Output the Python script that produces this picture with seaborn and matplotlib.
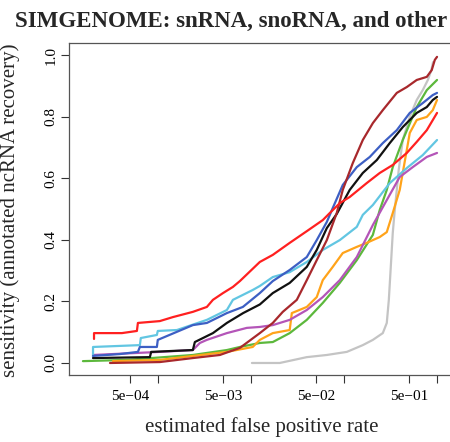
import matplotlib
matplotlib.use("Agg")
import matplotlib.pyplot as plt
import numpy as np
import pandas as pd
import seaborn as sns

# ROC-style curves: sensitivity vs. estimated false positive rate, one per method
gray_fpr = [0.0102, 0.0203, 0.0397, 0.0652, 0.107, 0.159, 0.204, 0.261, 0.288, 0.303, 0.318,
            0.334, 0.351, 0.369, 0.387, 0.428, 0.509, 0.605, 0.702, 0.797, 0.868, 0.906]
gray_sens = [0.0, 0.0, 0.019, 0.026, 0.036, 0.058, 0.075, 0.097, 0.130, 0.205, 0.312,
             0.422, 0.497, 0.562, 0.627, 0.724, 0.799, 0.854, 0.886, 0.919, 0.951, 0.977]

green_fpr = [1.55e-4, 4.6e-4, 2.36e-3, 5.48e-3, 7.57e-3, 0.0124, 0.0171, 0.026, 0.0397, 0.059,
             0.0899, 0.137, 0.204, 0.242, 0.288, 0.334, 0.428, 0.605, 0.776, 1.0]
green_sens = [0.006, 0.010, 0.026, 0.042, 0.052, 0.065, 0.068, 0.097, 0.140, 0.195,
              0.260, 0.334, 0.416, 0.497, 0.562, 0.636, 0.724, 0.831, 0.886, 0.919]

orange_fpr = [3.26e-4, 1.04e-3, 5.48e-3, 0.0104, 0.0124, 0.0171, 0.026, 0.0274, 0.0397, 0.0508,
              0.059, 0.0755, 0.0968, 0.137, 0.175, 0.242, 0.288, 0.334, 0.397, 0.473, 0.509,
              0.605, 0.776, 0.900, 1.0]
orange_sens = [0.006, 0.010, 0.036, 0.052, 0.075, 0.097, 0.107, 0.162, 0.182, 0.214,
               0.269, 0.312, 0.357, 0.377, 0.390, 0.409, 0.425, 0.487, 0.562, 0.692, 0.747,
               0.789, 0.799, 0.821, 0.854]

purple_fpr = [1.99e-4, 1.04e-3, 2.36e-3, 2.81e-3, 3.34e-3, 5.48e-3, 8.99e-3, 0.0124, 0.0171, 0.026,
              0.0397, 0.059, 0.0899, 0.137, 0.204, 0.288, 0.397, 0.548, 0.776, 1.0]
purple_sens = [0.026, 0.036, 0.042, 0.065, 0.075, 0.097, 0.114, 0.117, 0.123, 0.140,
               0.172, 0.214, 0.269, 0.344, 0.448, 0.529, 0.604, 0.636, 0.669, 0.682]

cyan_fpr = [1.99e-4, 1.99e-4, 6.35e-4, 6.5e-4, 9.68e-4, 9.9e-4, 1.59e-3, 3.34e-3, 5.48e-3, 6.37e-3,
            0.0104, 0.0124, 0.0171, 0.026, 0.0397, 0.059, 0.0899, 0.137, 0.159, 0.204, 0.261,
            0.310, 0.473, 0.702, 1.0]
cyan_sens = [0.019, 0.052, 0.058, 0.081, 0.091, 0.104, 0.107, 0.140, 0.172, 0.205,
             0.237, 0.250, 0.279, 0.295, 0.328, 0.367, 0.399, 0.442, 0.481, 0.513, 0.555,
             0.584, 0.633, 0.675, 0.724]

black_fpr = [1.99e-4, 8.14e-4, 8.4e-4, 2.36e-3, 2.48e-3, 3.88e-3, 5.48e-3, 8.2e-3, 0.0124, 0.0171,
             0.026, 0.0397, 0.0508, 0.0652, 0.0834, 0.115, 0.159, 0.225, 0.310, 0.428, 0.605,
             0.776, 0.900, 1.0]
black_sens = [0.016, 0.019, 0.036, 0.042, 0.068, 0.097, 0.130, 0.162, 0.190, 0.227,
              0.260, 0.312, 0.367, 0.438, 0.484, 0.562, 0.617, 0.659, 0.714, 0.766, 0.812,
              0.831, 0.854, 0.864]

blue_fpr = [1.99e-4, 3.87e-4, 6.05e-4, 6.35e-4, 9.68e-4, 9.9e-4, 2.36e-3, 3.34e-3, 5.48e-3, 8.15e-3,
            0.0124, 0.0171, 0.026, 0.0397, 0.0508, 0.0652, 0.0755, 0.0968, 0.137, 0.189, 0.261,
            0.369, 0.509, 0.702, 0.900, 1.0]
blue_sens = [0.023, 0.029, 0.036, 0.052, 0.052, 0.075, 0.123, 0.130, 0.162, 0.182,
             0.227, 0.266, 0.302, 0.344, 0.399, 0.458, 0.503, 0.578, 0.636, 0.669, 0.714,
             0.756, 0.812, 0.844, 0.870, 0.877]

brown_fpr = [3.03e-4, 1.04e-3, 2.36e-3, 4.61e-3, 7.57e-3, 0.0124, 0.0171, 0.0219, 0.031, 0.0397,
             0.0508, 0.0652, 0.0834, 0.0968, 0.124, 0.159, 0.204, 0.261, 0.369, 0.473, 0.605,
             0.776, 0.877, 0.946, 1.0]
brown_sens = [0.0, 0.003, 0.016, 0.026, 0.049, 0.097, 0.130, 0.166, 0.205, 0.269,
              0.334, 0.399, 0.487, 0.562, 0.649, 0.724, 0.779, 0.821, 0.877, 0.896, 0.919,
              0.929, 0.951, 0.984, 0.994]

red_fpr = [2.04e-4, 2.04e-4, 4.07e-4, 5.9e-4, 6.05e-4, 1.04e-3, 1.44e-3, 2.36e-3, 3.34e-3, 3.88e-3,
           4.98e-3, 6.37e-3, 7.57e-3, 0.0124, 0.0171, 0.026, 0.0397, 0.059, 0.0702, 0.0899,
           0.115, 0.175, 0.242, 0.334, 0.473, 0.605, 0.776, 1.0]
red_sens = [0.078, 0.097, 0.097, 0.104, 0.130, 0.136, 0.149, 0.166, 0.182, 0.205,
            0.227, 0.247, 0.266, 0.328, 0.351, 0.390, 0.428, 0.464, 0.487, 0.519,
            0.539, 0.584, 0.617, 0.643, 0.682, 0.718, 0.756, 0.812]

series = {
    "gray": (gray_fpr, gray_sens, "#c4c4c4"),
    "green": (green_fpr, green_sens, "#5cb83c"),
    "orange": (orange_fpr, orange_sens, "#ffa31a"),
    "purple": (purple_fpr, purple_sens, "#b455b8"),
    "cyan": (cyan_fpr, cyan_sens, "#62c6e2"),
    "black": (black_fpr, black_sens, "#111111"),
    "blue": (blue_fpr, blue_sens, "#3d5fc4"),
    "brown": (brown_fpr, brown_sens, "#a8282c"),
    "red": (red_fpr, red_sens, "#ff2020"),
}

x_ticks = [5e-4, 1e-3, 5e-3, 1e-2, 5e-2, 1e-1, 5e-1, 1.0]
x_tick_labels = ["5e\u221204", "", "5e\u221203", "", "5e\u221202", "", "5e\u221201", ""]
y_ticks = [0.0, 0.2, 0.4, 0.6, 0.8, 1.0]
y_tick_labels = ["0.0", "0.2", "0.4", "0.6", "0.8", "1.0"]

frames = []
for name, (fpr, sens, _) in series.items():
    frames.append(pd.DataFrame({"fpr": fpr, "sens": sens, "method": name,
                                "order": np.arange(len(fpr))}))
df = pd.concat(frames, ignore_index=True)
palette = {name: spec[2] for name, spec in series.items()}

sns.set_style("ticks")
plt.rcParams["font.family"] = ["Liberation Serif", "DejaVu Serif"]

W, H = 450, 442
fig = plt.figure(figsize=(W / 100, H / 100), dpi=100)
left, right, top, bottom = 68.5, 451.2, 42.7, 375.3
ax = fig.add_axes([left / W, 1 - bottom / H, (right - left) / W, (bottom - top) / H])

sns.lineplot(data=df, x="fpr", y="sens", hue="method", palette=palette,
             estimator=None, sort=False, legend=False, linewidth=1.6, ax=ax)

ax.set_xscale("log")
ax.set_xlim(10 ** -3.965, 10 ** 0.1525)
ax.set_ylim(-0.04, 1.04)
ax.set_xticks(x_ticks)
ax.set_xticklabels(x_tick_labels)
ax.minorticks_off()
ax.set_yticks(y_ticks)
ax.set_yticklabels(y_tick_labels, rotation=90, va="center")
ax.tick_params(axis="x", length=5.5, width=0.8, pad=5, labelsize=11, colors="#333333",
               labelcolor="black")
ax.tick_params(axis="y", length=5.5, width=0.8, pad=2.5, labelsize=11, colors="#333333",
               labelcolor="black")
ax.set_xlabel("")
ax.set_ylabel("")
for sp in ax.spines.values():
    sp.set_visible(True)
    sp.set_color("#555555")
    sp.set_linewidth(0.9)

fig.text(15 / W, 1 - 26.5 / H, "SIMGENOME: snRNA, snoRNA, and other",
         fontsize=16.5, fontweight="bold", ha="left", va="baseline")
fig.text(262 / W, 1 - 432 / H, "estimated false positive rate",
         fontsize=15, ha="center", va="baseline")
fig.text(10 / W, 1 - 210 / H, "sensitivity (annotated ncRNA recovery)",
         fontsize=15, rotation=90, ha="center", va="center")

fig.savefig("out.png", dpi=100)
